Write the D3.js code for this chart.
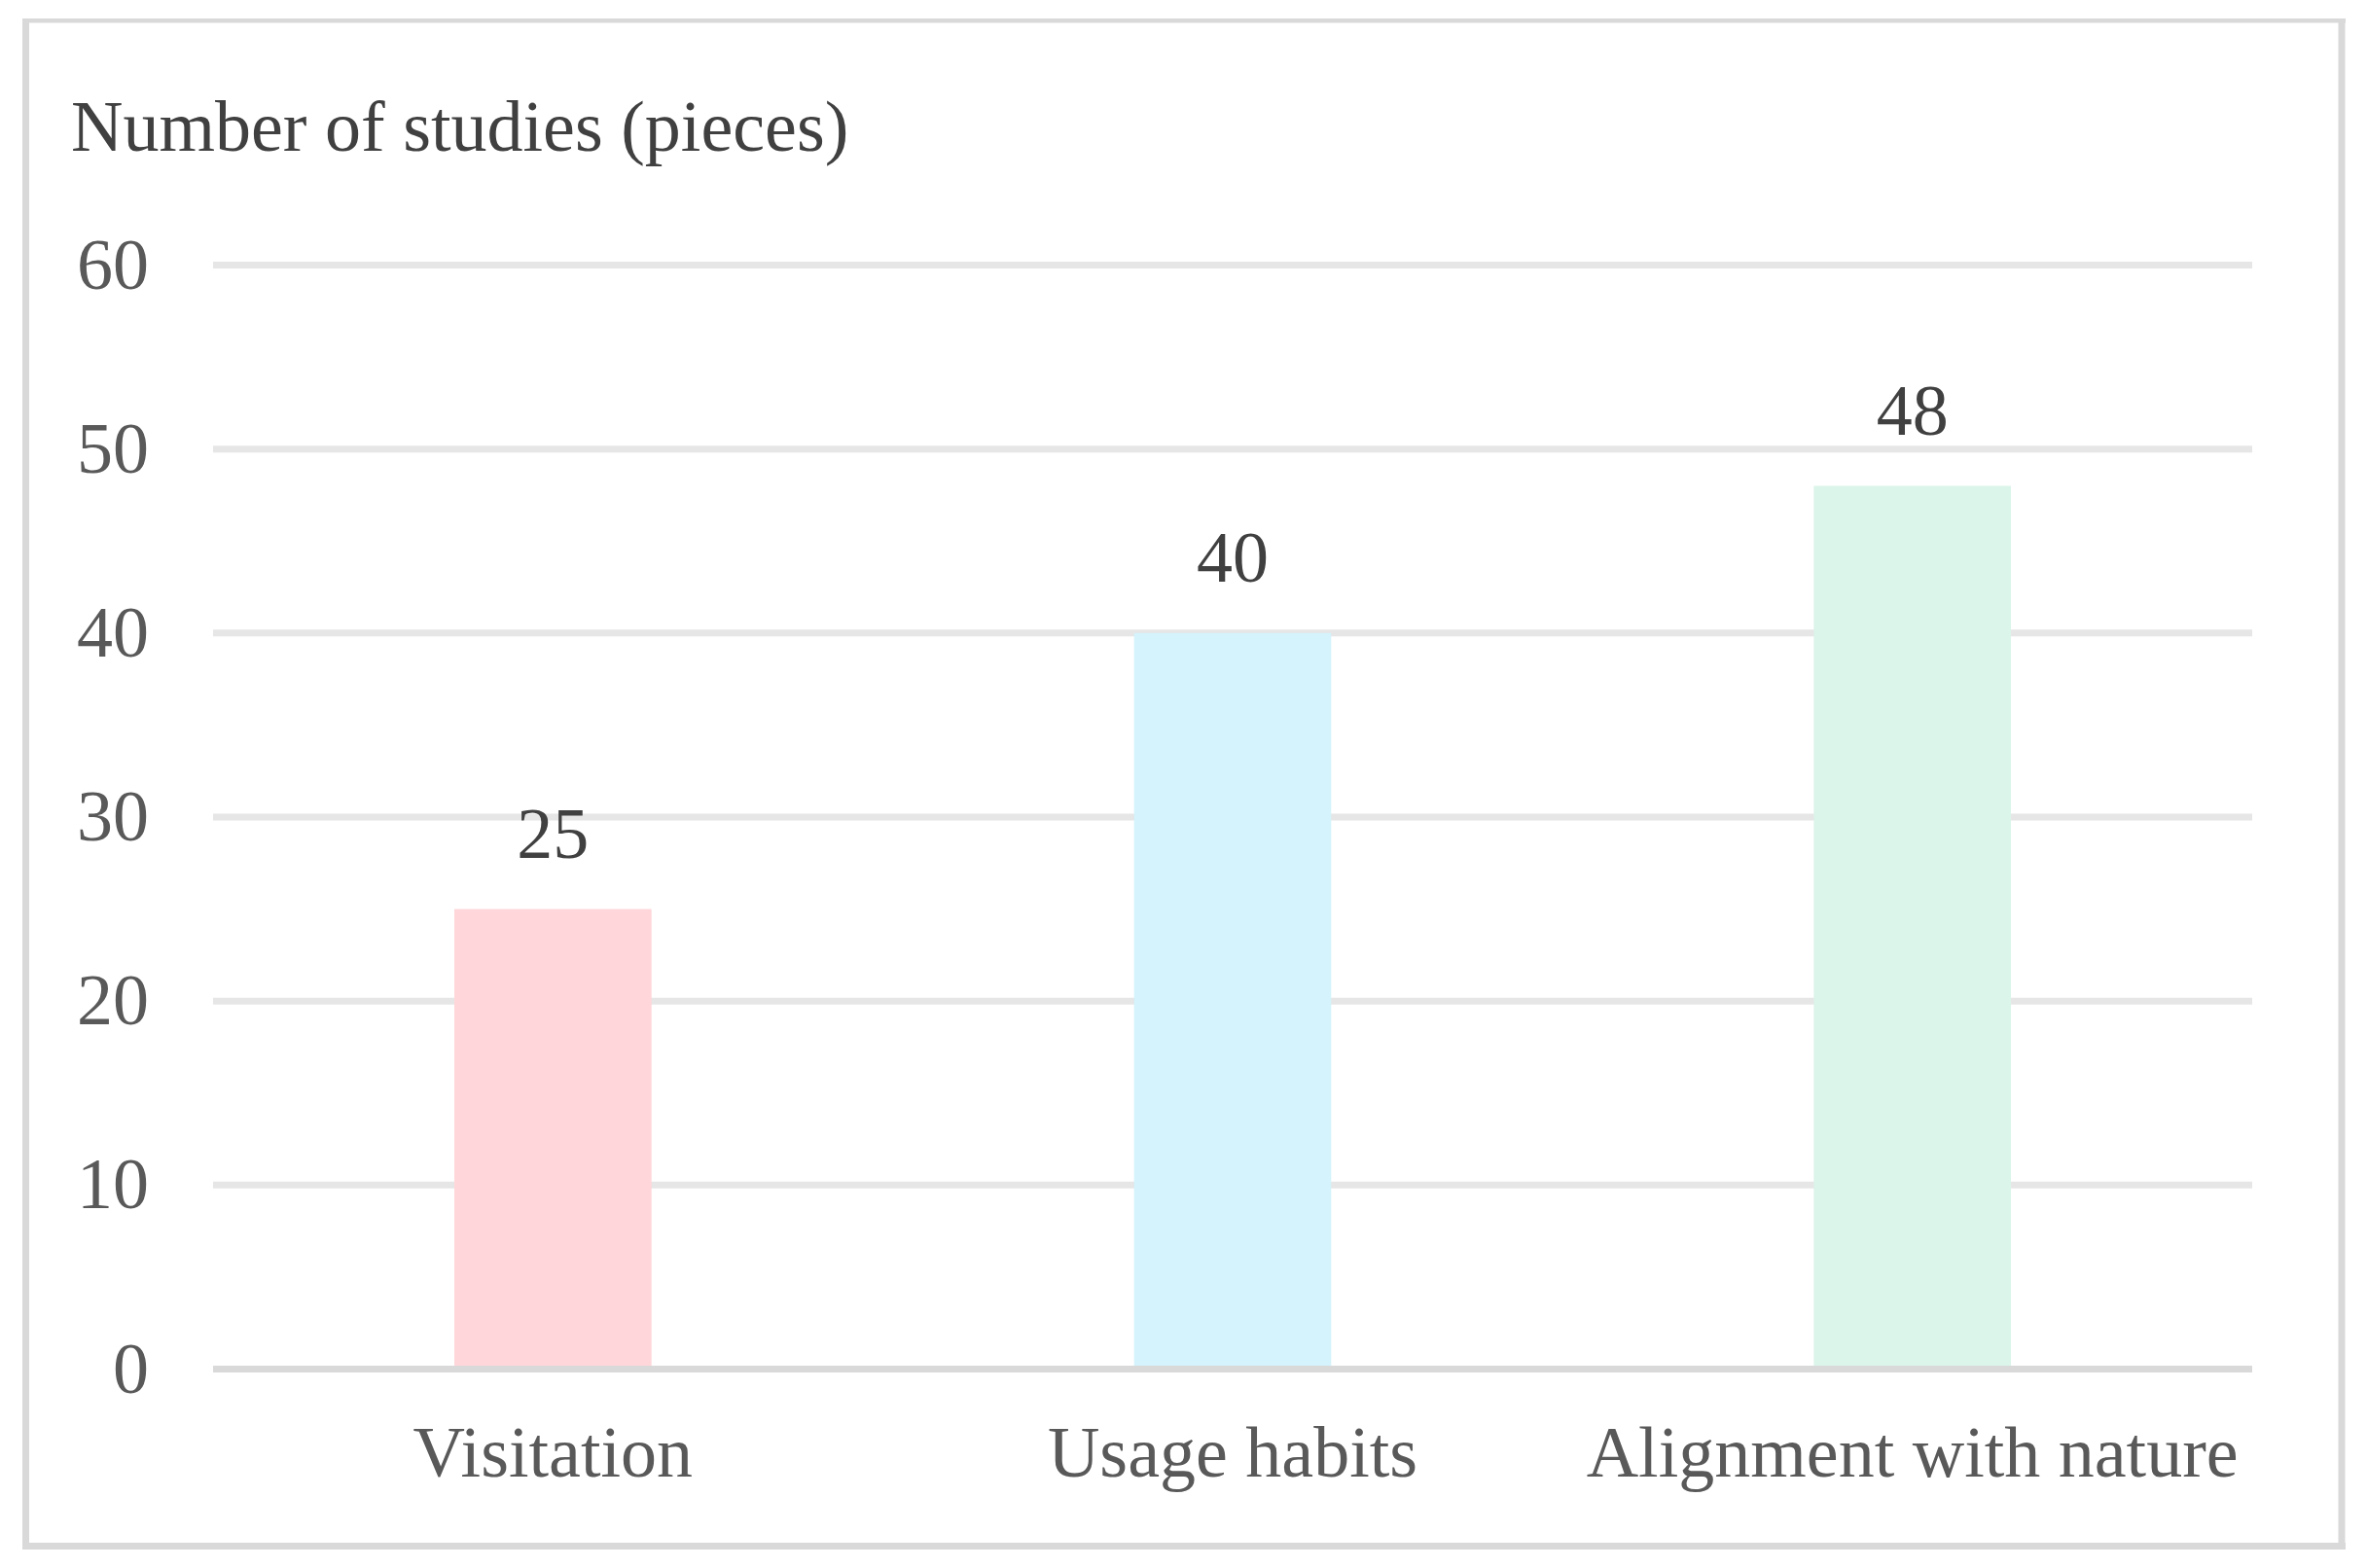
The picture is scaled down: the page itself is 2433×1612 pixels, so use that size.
<!DOCTYPE html>
<html>
<head>
<meta charset="utf-8">
<script src="https://cdn.jsdelivr.net/npm/d3@7"></script>
<style>
  html, body { margin: 0; padding: 0; background: #ffffff; }
  svg { display: block; }
  text { font-family: "Liberation Serif", "Times New Roman", "DejaVu Serif", serif; }
</style>
</head>
<body>
<svg id="chart" width="2433" height="1612"></svg>
<script>
// ---- data ----
const categories = ["Visitation", "Usage habits", "Alignment with nature"];
const values = [25, 40, 48];
const barColors = ["#ffd6d9", "#d4f3fc", "#dbf5ea"];
const yTicks = [0, 10, 20, 30, 40, 50, 60];
const yAxisTitle = "Number of studies (pieces)";

// ---- layout ----
const W = 2433, H = 1612;
const plot = { left: 219, right: 2315, top: 272.5, bottom: 1407.5 };
const fontSize = 74;

const svg = d3.select("#chart");
svg.append("rect").attr("x", 0).attr("y", 0).attr("width", W).attr("height", H).attr("fill", "#ffffff");

const x = d3.scaleBand()
  .domain(categories)
  .range([plot.left, plot.right])
  .paddingInner(0.71)
  .paddingOuter(0.355);

const y = d3.scaleLinear()
  .domain([0, 60])
  .range([plot.bottom, plot.top]);

// outer border
const border = svg.append("g").attr("stroke", "#d9d9d9").attr("fill", "none");
border.append("line").attr("x1", 23).attr("x2", 2411).attr("y1", 21.25).attr("y2", 21.25).attr("stroke-width", 4.5);
border.append("line").attr("x1", 26.5).attr("x2", 26.5).attr("y1", 19).attr("y2", 1593).attr("stroke-width", 7);
border.append("line").attr("x1", 2407).attr("x2", 2407).attr("y1", 19).attr("y2", 1593).attr("stroke-width", 7);
border.append("line").attr("x1", 23).attr("x2", 2411).attr("y1", 1589.5).attr("y2", 1589.5).attr("stroke-width", 7);

// gridlines (excluding 0)
svg.append("g")
  .selectAll("line")
  .data(yTicks.filter(d => d !== 0))
  .join("line")
  .attr("x1", plot.left).attr("x2", plot.right)
  .attr("y1", d => y(d)).attr("y2", d => y(d))
  .attr("stroke", "#e6e6e6")
  .attr("stroke-width", 7);

// bars
svg.append("g")
  .selectAll("rect")
  .data(categories)
  .join("rect")
  .attr("x", d => x(d))
  .attr("width", x.bandwidth())
  .attr("y", (d, i) => y(values[i]))
  .attr("height", (d, i) => y(0) - y(values[i]))
  .attr("fill", (d, i) => barColors[i]);

// x axis line
svg.append("line")
  .attr("x1", plot.left).attr("x2", plot.right)
  .attr("y1", y(0)).attr("y2", y(0))
  .attr("stroke", "#d9d9d9")
  .attr("stroke-width", 7);

// y tick labels
svg.append("g")
  .selectAll("text")
  .data(yTicks)
  .join("text")
  .attr("x", 153)
  .attr("y", d => y(d) + 24)
  .attr("text-anchor", "end")
  .attr("font-size", fontSize)
  .attr("fill", "#595959")
  .text(d => d);

// category labels
svg.append("g")
  .selectAll("text")
  .data(categories)
  .join("text")
  .attr("x", d => x(d) + x.bandwidth() / 2)
  .attr("y", 1518)
  .attr("text-anchor", "middle")
  .attr("font-size", fontSize)
  .attr("fill", "#595959")
  .text(d => d);

// data labels
svg.append("g")
  .selectAll("text")
  .data(categories)
  .join("text")
  .attr("x", d => x(d) + x.bandwidth() / 2)
  .attr("y", (d, i) => y(values[i]) - 53)
  .attr("text-anchor", "middle")
  .attr("font-size", fontSize)
  .attr("fill", "#404040")
  .text((d, i) => values[i]);

// y axis title
svg.append("text")
  .attr("x", 73)
  .attr("y", 155)
  .attr("font-size", fontSize)
  .attr("fill", "#404040")
  .text(yAxisTitle);
</script>
</body>
</html>
